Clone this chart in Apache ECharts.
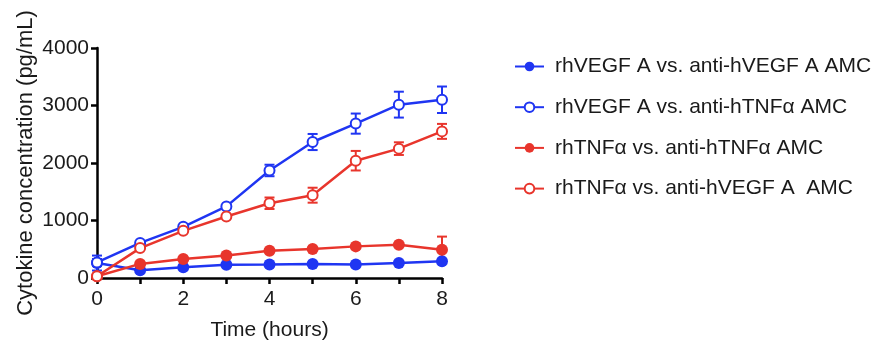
<!DOCTYPE html>
<html><head><meta charset="utf-8">
<script src="https://cdn.jsdelivr.net/npm/echarts@6/dist/echarts.min.js"></script>
<style>html,body{margin:0;padding:0;background:#fff}#c{width:882px;height:346px}</style>
</head><body><div id="c"></div>
<script>
var hours = [0,1,2,3,4,5,6,7,8];
var seriesNames = ['rhVEGF A vs. anti-hVEGF A AMC','rhVEGF A vs. anti-hTNF\u03b1 AMC','rhTNF\u03b1 vs. anti-hTNF\u03b1 AMC','rhTNF\u03b1 vs. anti-hVEGF A  AMC'];
var vegfVegf = [260,135,185,230,235,245,235,260,290];
var vegfTnf  = [270,610,890,1245,1870,2365,2685,3015,3100];
var tnfTnf   = [30,245,330,390,475,505,550,580,490];
var tnfVegf  = [30,520,820,1070,1300,1440,2040,2250,2550];
var vegfVegfErr = [130,0,0,0,0,0,0,0,0];
var vegfTnfErr  = [60,0,0,0,100,140,175,225,230];
var tnfTnfErr   = [0,0,0,0,0,0,0,0,230];
var tnfVegfErr  = [0,0,0,0,100,130,170,110,130];
var yTicks = [0,1000,2000,3000,4000];

var BLUE = '#1f35f2', RED = '#e8352c';
var FONT = 'Liberation Sans, Arial, Helvetica, sans-serif';
var allVals = [vegfVegf, vegfTnf, tnfTnf, tnfVegf];
var allErr = [vegfVegfErr, vegfTnfErr, tnfTnfErr, tnfVegfErr];
var colors = [BLUE, BLUE, RED, RED];
var filled = [true, false, true, false];

var series = [];
allVals.forEach(function(vals, i){
  var errData = hours.map(function(h, j){ return [h, vals[j], allErr[i][j]]; });
  series.push({
    type: 'custom', silent: true, z: 1, clip: false,
    data: errData,
    renderItem: function(params, api){
      var x = api.value(0), y = api.value(1), e = api.value(2);
      if (!e) return null;
      var top = api.coord([x, y + e]), bot = api.coord([x, y - e]);
      var cw = 5;
      var st = {stroke: colors[i], lineWidth: 2};
      return {type:'group', children:[
        {type:'line', shape:{x1:top[0],y1:top[1],x2:bot[0],y2:bot[1]}, style:st},
        {type:'line', shape:{x1:top[0]-cw,y1:top[1],x2:top[0]+cw,y2:top[1]}, style:st},
        {type:'line', shape:{x1:bot[0]-cw,y1:bot[1],x2:bot[0]+cw,y2:bot[1]}, style:st}
      ]};
    }
  });
});
allVals.forEach(function(vals, i){
  series.push({
    name: seriesNames[i], type: 'line', z: 3, clip: false,
    data: hours.map(function(h, j){ return [h, vals[j]]; }),
    symbol: 'circle', symbolSize: filled[i] ? 12 : 10,
    lineStyle: {color: colors[i], width: 2.5},
    itemStyle: filled[i] ? {color: colors[i], borderColor: colors[i], borderWidth: 0}
                         : {color: '#ffffff', borderColor: colors[i], borderWidth: 2},
    emphasis: {disabled: true}, animation: false
  });
});

var chart = echarts.init(document.getElementById('c'));
chart.setOption({
  animation: false,
  textStyle: {fontFamily: FONT},
  grid: {left: 97, right: 440, top: 48, bottom: 68},
  legend: {
    orient: 'vertical', left: 509, top: 51, itemGap: 19.7,
    itemWidth: 29, itemHeight: 12,
    textStyle: {fontSize: 21, lineHeight: 21, color: '#1a1a1a', fontFamily: FONT, padding: [0,0,0,6]},
    data: seriesNames
  },
  xAxis: {
    type: 'value', min: 0, max: 8, interval: 1,
    name: 'Time (hours)', nameLocation: 'middle', nameGap: 42,
    nameTextStyle: {fontSize: 21, color: '#1a1a1a', fontFamily: FONT},
    axisLine: {lineStyle: {color: '#000', width: 2.5}},
    axisTick: {show: true, length: 6, lineStyle: {color: '#000', width: 2.5}},
    axisLabel: {fontSize: 21, color: '#1a1a1a', margin: 11, fontFamily: FONT,
      formatter: function(v){ return v % 2 === 0 ? String(v) : ''; }},
    splitLine: {show: false}
  },
  yAxis: {
    type: 'value', min: yTicks[0], max: yTicks[yTicks.length-1], interval: 1000,
    name: 'Cytokine concentration (pg/mL)', nameLocation: 'middle', nameGap: 60,
    nameTextStyle: {fontSize: 22, color: '#1a1a1a', fontFamily: FONT},
    axisLine: {show: true, lineStyle: {color: '#000', width: 2.5}},
    axisTick: {show: true, length: 6, lineStyle: {color: '#000', width: 2.5}},
    axisLabel: {fontSize: 21, color: '#1a1a1a', margin: 8, fontFamily: FONT,
      formatter: function(v){ return String(v); }},
    splitLine: {show: false}
  },
  series: series
});
</script></body></html>
